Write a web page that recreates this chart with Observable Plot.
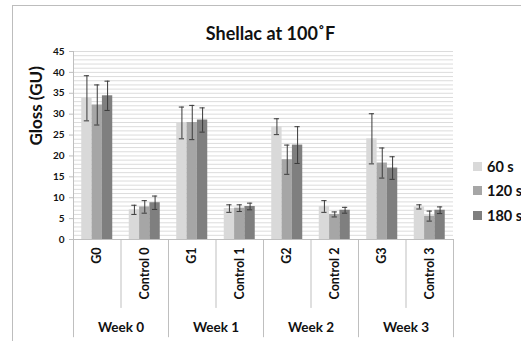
<!DOCTYPE html>
<html><head><meta charset="utf-8">
<script src="https://cdn.jsdelivr.net/npm/d3@7"></script>
<script src="https://cdn.jsdelivr.net/npm/@observablehq/plot@0.6"></script>
<style>
body{margin:0;background:#fff;}
#wrap{position:relative;width:521px;height:341px;overflow:hidden;font-family:Lato, "Open Sans", sans-serif;}
#border{position:absolute;left:12px;top:5px;width:520px;height:340px;border-left:1px solid #bdbdbd;border-top:1px solid #bdbdbd;}
#chart{position:absolute;left:0;top:0;}
#legend{position:absolute;left:473px;top:154px;}
.item{display:flex;align-items:center;height:24.5px;font-weight:bold;font-size:14.5px;color:#111;white-space:nowrap;}
.sw{width:9px;height:9px;margin-right:5px;}
</style>
</head><body>
<div id="wrap"><div id="border"></div><div id="chart"></div><div id="legend"></div></div>
<script>
const title = "Shellac at 100˚F";
const yLabel = "Gloss (GU)";
const categories = ["G0","Control 0","G1","Control 1","G2","Control 2","G3","Control 3"];
const weeks = ["Week 0","Week 1","Week 2","Week 3"];
const series = ["60 s","120 s","180 s"];
const colors = ["#d9d9d9","#a6a6a6","#7f7f7f"];
const yTicks = [0,5,10,15,20,25,30,35,40,45];
const gloss60  = [33.8, 7.1, 27.9, 7.4, 27.0, 7.9, 24.1, 7.8];
const err60    = [5.4, 1.1, 3.8, 0.9, 1.9, 1.4, 6.0, 0.5];
const gloss120 = [32.2, 7.8, 28.0, 7.5, 19.1, 6.0, 18.3, 5.6];
const err120   = [4.8, 1.5, 4.1, 0.8, 3.5, 0.6, 3.6, 1.2];
const gloss180 = [34.4, 8.8, 28.6, 7.9, 22.6, 7.0, 17.1, 7.0];
const err180   = [3.5, 1.6, 2.9, 0.8, 4.4, 0.7, 2.7, 0.8];

const vals = [gloss60, gloss120, gloss180];
const errs = [err60, err120, err180];
const rows = [];
categories.forEach((c, i) => series.forEach((s, k) => rows.push({i, k, cat: c, s, v: vals[k][i], e: errs[k][i]})));
const bw = 0.2175, pad = (1 - 3 * bw) / 2;
const x1 = d => d.i + pad + d.k * bw;
const x2 = d => x1(d) + bw;
const xc = d => x1(d) + bw / 2;
const cap = 0.055;

const chart = Plot.plot({
  width: 521, height: 341,
  marginTop: 51, marginBottom: 102, marginLeft: 73, marginRight: 68,
  style: {fontFamily: "Lato, 'Open Sans', sans-serif", fontSize: "10px", fontWeight: "bold", color: "#111", background: "transparent", overflow: "visible"},
  x: {domain: [0, 8], axis: null},
  y: {domain: [0, 45], axis: null},
  color: {domain: series, range: colors},
  marks: [
    Plot.ruleY(d3.range(1, 46), {stroke: "#dcdcdc", strokeWidth: 1}),
    Plot.rectY(rows, {x1, x2, y1: 0, y2: "v", fill: "s"}),
    Plot.ruleX(rows, {x: xc, y1: d => d.v - d.e, y2: d => d.v + d.e, stroke: "#3a3a3a"}),
    Plot.ruleY(rows, {y: d => d.v + d.e, x1: d => xc(d) - cap, x2: d => xc(d) + cap, stroke: "#3a3a3a"}),
    Plot.ruleY(rows, {y: d => d.v - d.e, x1: d => xc(d) - cap, x2: d => xc(d) + cap, stroke: "#3a3a3a"}),
    Plot.ruleY([0], {stroke: "#bfbfbf"}),
    Plot.ruleX([0], {y1: 0, y2: 45, stroke: "#bfbfbf"}),
    Plot.ruleY(yTicks, {x1: () => -0.084, x2: () => 0, stroke: "#bfbfbf"}),
    Plot.text(yTicks, {x: () => 0, y: d => d, text: d => d, dx: -9, textAnchor: "end", fontSize: 10, fontWeight: "bold"}),
    Plot.ruleX(d3.range(9), {x: d => d, y1: () => 0, y2: d => d % 2 === 0 ? -23.5 : -16.5, stroke: "#bfbfbf"}),
    Plot.text(categories, {x: (d, i) => i + 0.5, y: () => 0, text: d => d, rotate: -90, textAnchor: "end", dy: 8, fontSize: 12.5, fontWeight: "bold"}),
    Plot.text(weeks, {x: (d, i) => 2 * i + 1, y: () => 0, text: d => d, dy: 88, fontSize: 13.5, fontWeight: "bold"}),
    Plot.text([title], {frameAnchor: "top", text: d => d, dy: -24, dx: 7, fontSize: 18, fontWeight: "bold"}),
    Plot.text([yLabel], {frameAnchor: "left", text: d => d, rotate: -90, dx: -37, fontSize: 17, fontWeight: "bold"})
  ]
});
document.getElementById("chart").appendChild(chart);

const legend = document.getElementById("legend");
series.forEach((s, k) => {
  const it = document.createElement("div");
  it.className = "item";
  const sw = document.createElement("span");
  sw.className = "sw";
  sw.style.background = colors[k];
  const t = document.createElement("span");
  t.textContent = s;
  it.appendChild(sw); it.appendChild(t);
  legend.appendChild(it);
});
</script>
</body></html>
